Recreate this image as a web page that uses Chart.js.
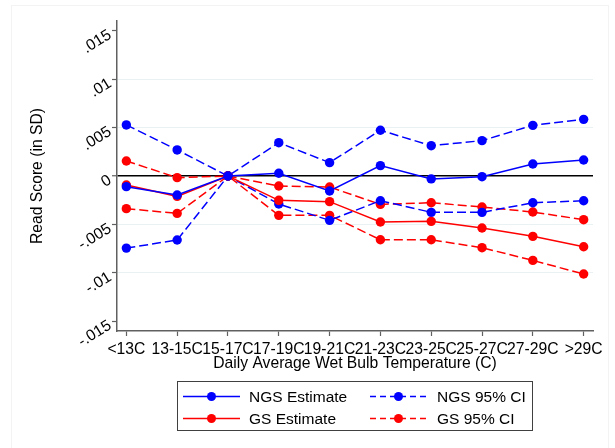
<!DOCTYPE html>
<html>
<head>
<meta charset="utf-8">
<script src="https://cdn.jsdelivr.net/npm/chart.js@4.4.1/dist/chart.umd.min.js"></script>
<style>
  html, body { margin: 0; padding: 0; background: #fff; }
  #wrap { width: 615px; height: 448px; position: relative; }
</style>
</head>
<body>
<div id="wrap"><canvas id="chart" width="615" height="448"></canvas></div>
<script>
'use strict';

var categories = ['<13C', '13-15C', '15-17C', '17-19C', '19-21C', '21-23C', '23-25C', '25-27C', '27-29C', '>29C'];
var yTicks = [-0.015, -0.01, -0.005, 0, 0.005, 0.01, 0.015];

var ngsEstimate = [-0.0011, -0.00196, 0, 0.00028, -0.00155, 0.00107, -0.0003, -0.00007, 0.00124, 0.00165];
var ngsUpper = [0.00527, 0.00269, 0, 0.00344, 0.00138, 0.00472, 0.00313, 0.00365, 0.00523, 0.00585];
var ngsLower = [-0.00744, -0.00661, 0, -0.00289, -0.00458, -0.00255, -0.00375, -0.00375, -0.00276, -0.00255];
var gsEstimate = [-0.00093, -0.0021, 0, -0.00251, -0.00265, -0.00475, -0.00468, -0.00537, -0.00623, -0.0073];
var gsUpper = [0.00155, -0.00017, 0, -0.00103, -0.00114, -0.00293, -0.00276, -0.0032, -0.00372, -0.00451];
var gsLower = [-0.00337, -0.00386, 0, -0.00406, -0.00406, -0.00658, -0.00658, -0.0074, -0.00871, -0.01012];

var fontFamily = "'Liberation Sans', Arial, sans-serif";
var fontSize = 15.7;
var blue = '#0000ff';
var red = '#ff0000';
var dash = [9, 4];

function pts(arr) {
  return arr.map(function (v, i) { return { x: i, y: v }; });
}

function series(label, arr, color, dashed, inLegend) {
  return {
    label: label,
    data: pts(arr),
    borderColor: color,
    backgroundColor: color,
    borderWidth: 1.5,
    borderDash: dashed ? dash : [],
    pointRadius: 4.7,
    pointHoverRadius: 4.7,
    pointBorderWidth: 0,
    pointBackgroundColor: color,
    tension: 0,
    inLegend: inLegend
  };
}

function fmtTick(v) {
  if (v === 0) return '0';
  var s = String(Math.round(v * 1000) / 1000);
  return s.replace('0.', '.');
}

// faint outer frame like the graph region
var frame = {
  id: 'frame',
  beforeDraw: function (chart) {
    var ctx = chart.ctx;
    ctx.save();
    ctx.strokeStyle = '#f3f3f3';
    ctx.lineWidth = 1;
    ctx.strokeRect(11.5, 5.5, 597, 460);
    ctx.restore();
  }
};

// two-column boxed legend under the plot
var boxLegend = {
  id: 'boxLegend',
  afterDraw: function (chart) {
    var ctx = chart.ctx;
    var items = chart.data.datasets.filter(function (d) { return d.inLegend; });
    var left = 177.5, top = 381.5, w = 355, h = 49;
    ctx.save();
    ctx.strokeStyle = '#404040';
    ctx.lineWidth = 1;
    ctx.strokeRect(left, top, w, h);
    ctx.font = '15.5px ' + fontFamily;
    ctx.fillStyle = '#000';
    ctx.textBaseline = 'middle';
    ctx.textAlign = 'left';
    var cols = [
      { x0: 183, x1: 240, text: 249 },
      { x0: 370, x1: 427, text: 437 }
    ];
    var rows = [396.5, 418.5];
    items.forEach(function (d, i) {
      var c = cols[Math.floor(i / 2)];
      var y = rows[i % 2];
      ctx.strokeStyle = d.borderColor;
      ctx.lineWidth = d.borderWidth;
      ctx.setLineDash(d.borderDash.length ? [6, 4] : []);
      ctx.beginPath();
      ctx.moveTo(c.x0, y);
      ctx.lineTo(c.x1, y);
      ctx.stroke();
      ctx.setLineDash([]);
      ctx.fillStyle = d.borderColor;
      ctx.beginPath();
      ctx.arc((c.x0 + c.x1) / 2, y, 4.5, 0, Math.PI * 2);
      ctx.fill();
      ctx.fillStyle = '#000';
      ctx.fillText(d.label, c.text, y + 1);
    });
    ctx.restore();
  }
};

new Chart(document.getElementById('chart'), {
  type: 'line',
  data: {
    datasets: [
      series('NGS Estimate', ngsEstimate, blue, false, true),
      series('GS Estimate', gsEstimate, red, false, true),
      series('NGS 95% CI', ngsUpper, blue, true, true),
      series('NGS 95% CI lower', ngsLower, blue, true, false),
      series('GS 95% CI', gsUpper, red, true, true),
      series('GS 95% CI lower', gsLower, red, true, false)
    ]
  },
  options: {
    responsive: false,
    animation: false,
    devicePixelRatio: 1,
    layout: { padding: { top: 21, right: 22, bottom: 0, left: 0 } },
    plugins: {
      legend: { display: false },
      tooltip: { enabled: false }
    },
    scales: {
      x: {
        type: 'linear',
        min: -0.184,
        max: 9.184,
        afterBuildTicks: function (s) {
          s.ticks = categories.map(function (c, i) { return { value: i }; });
        },
        afterFit: function (s) { s.height = 117; },
        border: { color: '#606060', width: 1.5 },
        grid: { drawOnChartArea: false, tickColor: '#606060', tickLength: 5, tickWidth: 1.2 },
        ticks: {
          autoSkip: false,
          maxRotation: 0,
          minRotation: 0,
          padding: 4,
          color: '#000',
          font: { family: fontFamily, size: fontSize },
          callback: function (v) { return categories[v]; }
        },
        title: {
          display: true,
          text: 'Daily Average Wet Bulb Temperature (C)',
          color: '#000',
          font: { family: fontFamily, size: fontSize },
          padding: { top: 0, bottom: 75 }
        }
      },
      y: {
        min: -0.016,
        max: 0.016,
        afterBuildTicks: function (s) {
          s.ticks = yTicks.map(function (v) { return { value: v }; });
        },
        afterFit: function (s) { s.width = 117; },
        border: { color: '#606060', width: 1.5 },
        grid: {
          color: function (c) {
            var v = c.tick ? c.tick.value : null;
            if (v === 0) return '#000';
            if (v === 0.015 || v === -0.015) return 'rgba(0,0,0,0)';
            return '#eaf1f3';
          },
          lineWidth: function (c) { return c.tick && c.tick.value === 0 ? 1.5 : 1; },
          tickColor: '#606060',
          tickLength: 5,
          tickWidth: 1.2
        },
        ticks: {
          minRotation: 32,
          maxRotation: 32,
          padding: 2,
          labelOffset: 3,
          color: '#000',
          font: { family: fontFamily, size: fontSize },
          callback: fmtTick
        },
        title: {
          display: true,
          text: 'Read Score (in SD)',
          color: '#000',
          font: { family: fontFamily, size: fontSize },
          padding: { top: 28, bottom: 0 }
        }
      }
    }
  },
  plugins: [frame, boxLegend]
});
</script>
</body>
</html>
